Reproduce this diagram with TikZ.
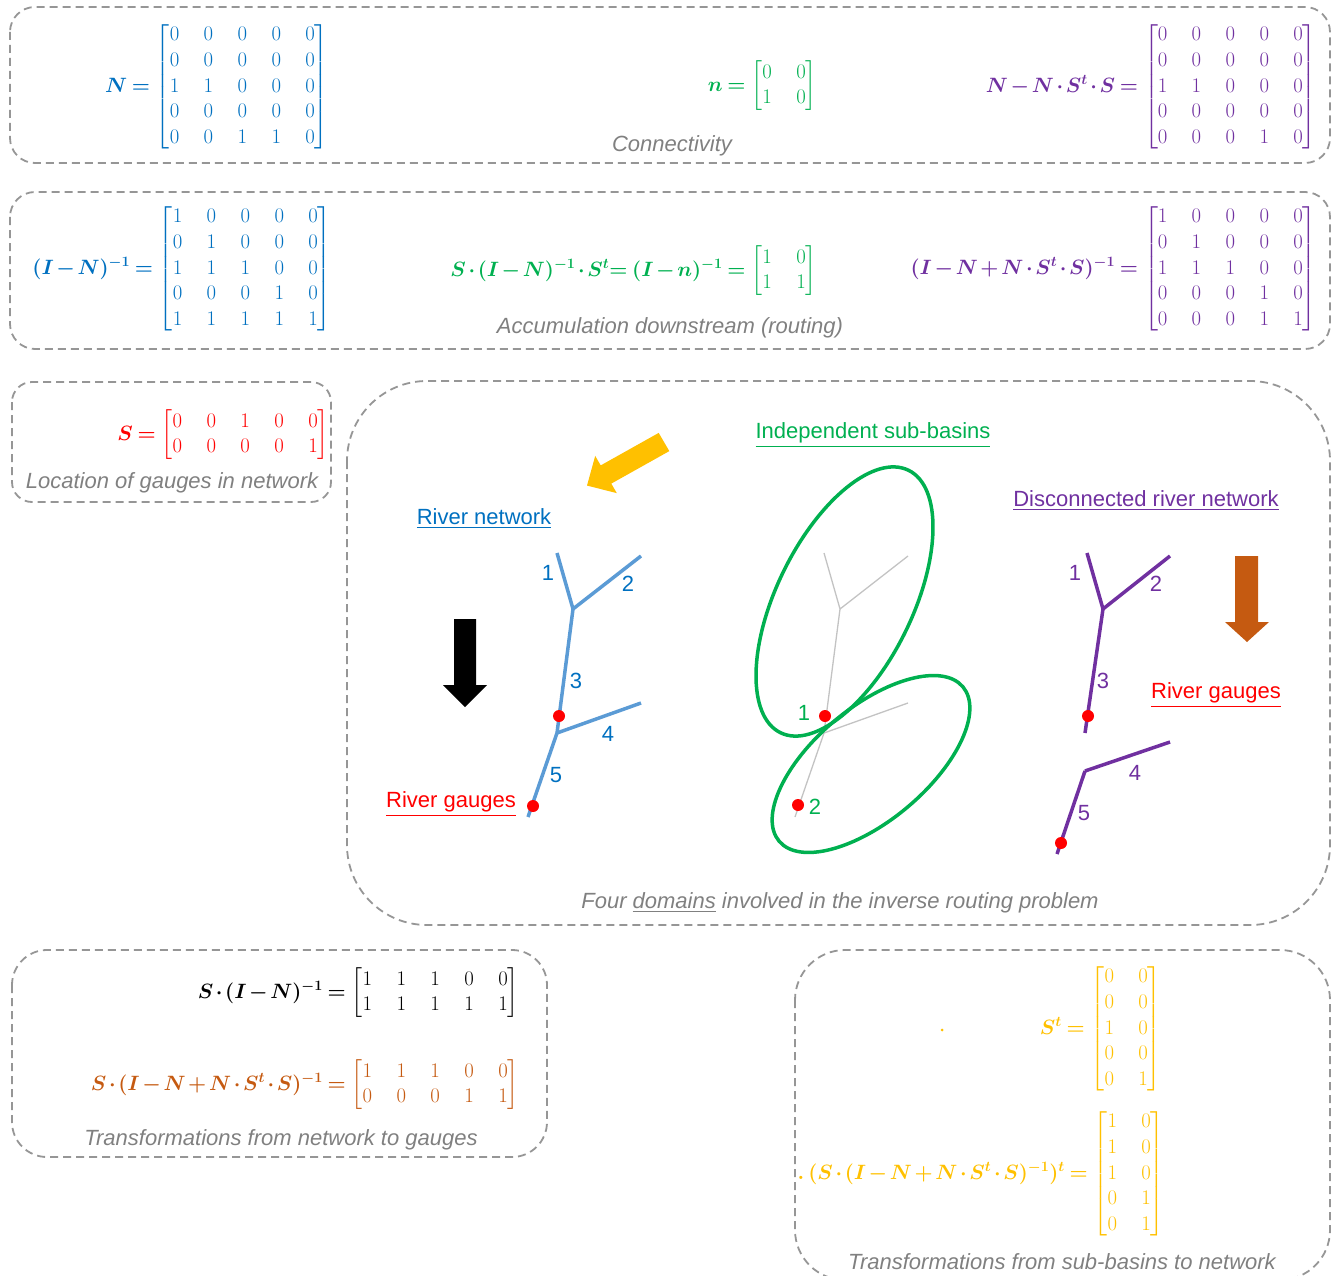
\documentclass[tikz,border=0pt]{standalone}
\usepackage{amsmath}
\usepackage{fontspec}
\newfontfamily\labfont{Liberation Sans}
\definecolor{cblue}{RGB}{0,112,192}
\definecolor{lblue}{RGB}{91,155,213}
\definecolor{cgreen}{RGB}{0,176,80}
\definecolor{cpurple}{RGB}{112,48,160}
\definecolor{cred}{RGB}{255,0,0}
\definecolor{cyellow}{RGB}{255,192,0}
\definecolor{corange}{RGB}{197,90,17}
\definecolor{cgray}{RGB}{128,128,128}
\definecolor{bgray}{RGB}{150,150,150}
\definecolor{tgray}{RGB}{195,195,195}
\setlength{\arraycolsep}{12.2pt}
\newcommand\mymat[1]{{\fontsize{22.5}{25.6}\selectfont$\begin{bmatrix}#1\end{bmatrix}$}}
\newcommand\mylhs[1]{{\boldmath\medmuskip=2mu\thickmuskip=3.5mu$#1$}\hspace{6pt}}
\begin{document}
\begin{tikzpicture}[x=1pt,y=-1pt,
  boxframe/.style={draw=bgray, line width=1.8pt, dash pattern=on 8pt off 5pt},
  eqn/.style={anchor=east, inner sep=0pt, font=\fontsize{21.5}{25.6}\selectfont},
  lab/.style={inner sep=1pt, font=\labfont\fontsize{22}{26}\selectfont},
  capt/.style={inner sep=1pt, text=cgray, font=\labfont\itshape\fontsize{22}{26}\selectfont},
  river/.style={line width=3.5pt},
  gauge/.style={fill=cred, circle, inner sep=0pt, minimum size=12pt},
  basin/.style={draw=cgreen, line width=3.5pt}]
\useasboundingbox (0,0) rectangle (1338,1276);

% ---------- frames
\draw[boxframe, rounded corners=25pt] (10,7) rectangle (1330,163);
\draw[boxframe, rounded corners=25pt] (10,192) rectangle (1330,349);
\draw[boxframe, rounded corners=20pt] (12,382) rectangle (331,502);
\draw[boxframe, rounded corners=80pt] (347,381) rectangle (1330,925);
\draw[boxframe, rounded corners=35pt] (12,950) rectangle (547,1157);
\draw[boxframe, rounded corners=50pt] (795,950) rectangle (1330,1280);

% ---------- connectivity
\node[eqn, text=cblue] (eN) at (329,87) {\mylhs{N=}\mymat{0&0&0&0&0\\0&0&0&0&0\\1&1&0&0&0\\0&0&0&0&0\\0&0&1&1&0}};
\node[eqn, text=cgreen] (en) at (817,86) {\mylhs{n=}\mymat{0&0\\1&0}};
\node[eqn, text=cpurple] (eNS) at (1317,87) {\mylhs{N-N\cdot S^t\cdot S=}\mymat{0&0&0&0&0\\0&0&0&0&0\\1&1&0&0&0\\0&0&0&0&0\\0&0&0&1&0}};
\node[capt] (c1) at (672,146) {Connectivity};

% ---------- accumulation
\node[eqn, text=cblue] (eIN) at (332,269) {\mylhs{(I-N)^{-1}=}\mymat{1&0&0&0&0\\0&1&0&0&0\\1&1&1&0&0\\0&0&0&1&0\\1&1&1&1&1}};
\node[eqn, text=cgreen] (eIn) at (817,271) {\mylhs{S\cdot(I-N)^{-1}\cdot S^t{=}\;(I-n)^{-1}=}\mymat{1&0\\1&1}};
\node[eqn, text=cpurple] (eINS) at (1317,269) {\mylhs{(I-N+N\cdot S^t\cdot S)^{-1}=}\mymat{1&0&0&0&0\\0&1&0&0&0\\1&1&1&0&0\\0&0&0&1&0\\0&0&0&1&1}};
\node[capt] (c2) at (670,328) {Accumulation downstream (routing)};

% ---------- location of gauges
\node[eqn, text=cred] (eS) at (329,435) {\mylhs{S=}\mymat{0&0&1&0&0\\0&0&0&0&1}};
\node[capt] (c3) at (172,483) {Location of gauges in network};

% ---------- network to gauges
\node[eqn, text=black] (eSI) at (519,993) {\mylhs{S\cdot(I-N)^{-1}=}\mymat{1&1&1&0&0\\1&1&1&1&1}};
\node[eqn, text=corange] (eSIN) at (519,1085) {\mylhs{S\cdot(I-N+N\cdot S^t\cdot S)^{-1}=}\mymat{1&1&1&0&0\\0&0&0&1&1}};
\node[capt] (c5) at (281,1140) {Transformations from network to gauges};

% ---------- sub-basins to network
\fill[cyellow] (942,1030) circle (1.5);
\node[eqn, text=cyellow] (eSt) at (1162,1029) {\mylhs{S^t=}\mymat{0&0\\0&0\\1&0\\0&0\\0&1}};
\node[eqn, text=cyellow] (eSSt) at (1165,1174) {\mylhs{.\,(S\cdot(I-N+N\cdot S^t\cdot S)^{-1})^t=}\mymat{1&0\\1&0\\1&0\\0&1\\0&1}};
\node[capt] (c6) at (1062,1262) {Transformations from sub-basins to network};

% ---------- domains
\node[capt] (c4) at (840,903) {Four \underline{domains} involved in the inverse routing problem};

% yellow arrow
\fill[cyellow] (658.7,432.9) -- (600.7,465.4) -- (595.2,455.9) -- (587,485.6) -- (616.8,493.1) -- (611.3,483.6) -- (669.3,451.1) -- cycle;
% black arrow
\fill[black] (454,619) -- (476,619) -- (476,685) -- (487,685) -- (465,707) -- (443,685) -- (454,685) -- cycle;
% brown arrow
\fill[corange] (1235,556) -- (1258,556) -- (1258,622) -- (1269,622) -- (1247,642) -- (1225,622) -- (1235,622) -- cycle;

% river network (blue)
\node[lab, text=cblue] (tRN) at (484,519) {\underline{River network}};
\node[lab, text=cred] (tRG1) at (451,804) {\underline{River gauges}};
\coordinate (b1) at (557,553);
\coordinate (b2) at (641,556);
\coordinate (bj) at (573,609);
\coordinate (bk) at (557,733);
\coordinate (b4) at (641,703);
\coordinate (b5) at (528,817);
\draw[river, lblue] (b1) -- (bj) (b2) -- (bj) (bj) -- (bk) (b4) -- (bk) (bk) -- (b5);
\node[gauge] (g1) at (559,716) {};
\node[gauge] (g2) at (533,806) {};
\node[lab, text=cblue] at (548,573) {1};
\node[lab, text=cblue] at (628,584) {2};
\node[lab, text=cblue] at (576,681) {3};
\node[lab, text=cblue] at (608,734) {4};
\node[lab, text=cblue] at (556,775) {5};

% independent sub-basins
\node[lab, text=cgreen] (tIS) at (873,435) {\underline{Independent sub-basins}};
\begin{scope}[xshift=267pt]
\coordinate (s1) at (557,553);
\coordinate (s2) at (641,556);
\coordinate (sj) at (573,609);
\coordinate (sk) at (557,733);
\coordinate (s4) at (641,703);
\coordinate (s5) at (528,817);
\end{scope}
\draw[line width=1.3pt, tgray] (s1) -- (sj) (s2) -- (sj) (sj) -- (sk) (s4) -- (sk) (sk) -- (s5);
\draw[basin, rotate around={64:(844.5,601.5)}] (844.5,601.5) ellipse [x radius=146, y radius=68];
\draw[basin, rotate around={40:(871,764)}] (871,764) ellipse [x radius=120, y radius=56.5];
\node[gauge] (g3) at (825,716) {};
\node[gauge] (g4) at (798,805) {};
\node[lab, text=cgreen] at (804,713) {1};
\node[lab, text=cgreen] at (815,807) {2};

% disconnected river network (purple)
\node[lab, text=cpurple] (tDR) at (1146,501) {\underline{Disconnected river network}};
\node[lab, text=cred] (tRG2) at (1216,695) {\underline{River gauges}};
\coordinate (p1) at (1087,553);
\coordinate (p2) at (1170,556);
\coordinate (pj) at (1103,609);
\coordinate (pb) at (1085,733);
\coordinate (qj) at (1085,771);
\coordinate (q4) at (1170,742);
\coordinate (q5) at (1057,854);
\draw[river, cpurple] (p1) -- (pj) (p2) -- (pj) (pj) -- (pb);
\draw[river, cpurple] (q4) -- (qj) (qj) -- (q5);
\node[gauge] (g5) at (1088,716) {};
\node[gauge] (g6) at (1061,843) {};
\node[lab, text=cpurple] at (1075,573) {1};
\node[lab, text=cpurple] at (1156,584) {2};
\node[lab, text=cpurple] at (1103,681) {3};
\node[lab, text=cpurple] at (1135,773) {4};
\node[lab, text=cpurple] at (1084,813) {5};
\end{tikzpicture}
\end{document}
